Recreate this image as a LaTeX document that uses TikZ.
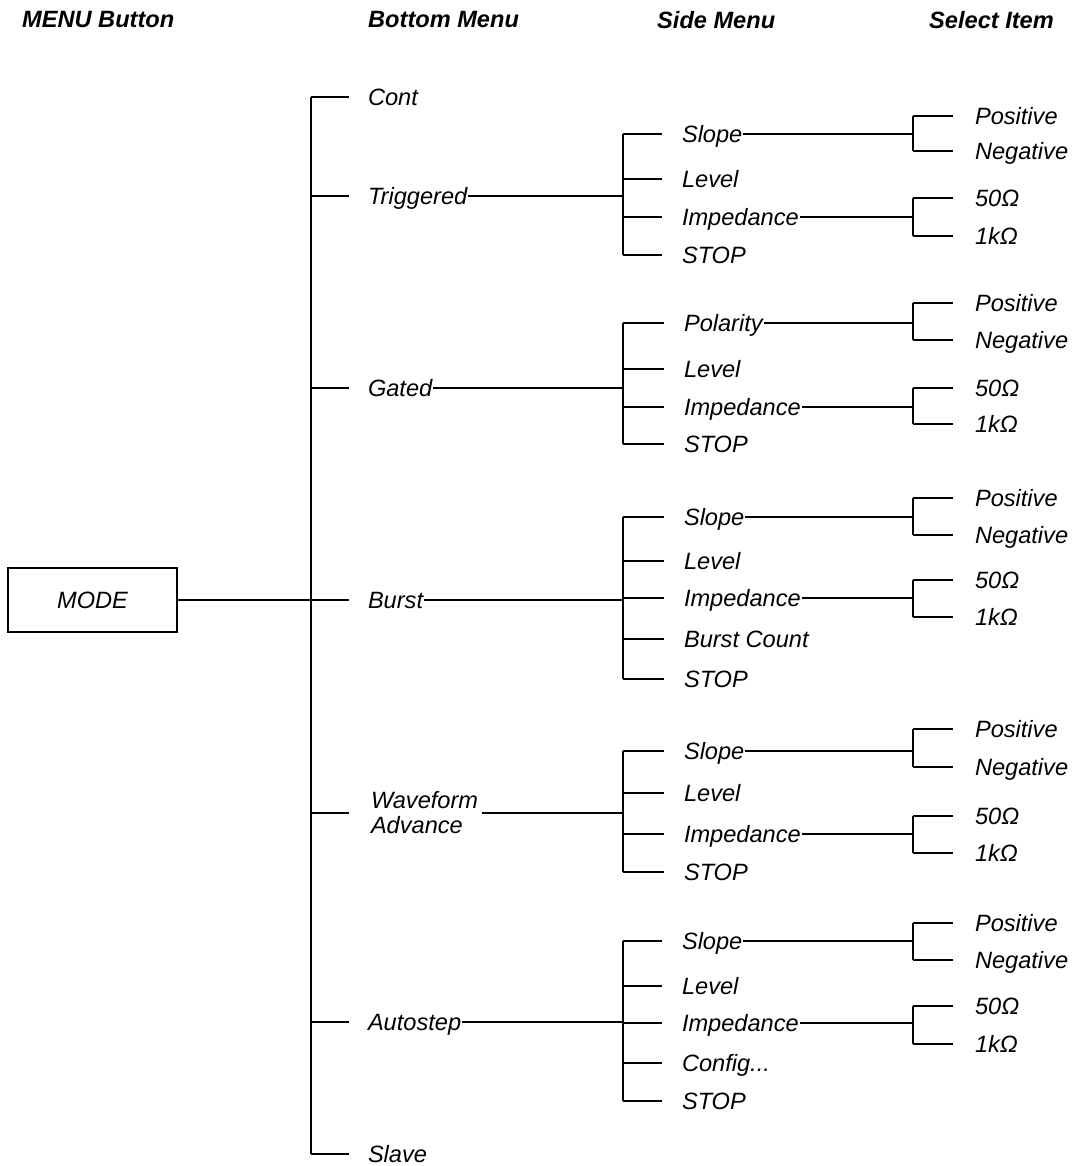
\documentclass[tikz,border=0pt]{standalone}
\usepackage{fontspec}
\setmainfont{Liberation Sans}
\begin{document}
\begin{tikzpicture}[x=1pt,y=-1pt,
  lbl/.style={anchor=west, inner sep=0pt, outer sep=1pt, text height=17pt, text depth=0pt,
    font=\itshape\fontsize{23.6}{28}\selectfont},
  twoline/.style={anchor=west, inner sep=0pt, outer sep=4pt, align=left,
    font=\itshape\fontsize{23.6}{25}\selectfont},
  head/.style={anchor=west, inner sep=0pt, font=\bfseries\itshape\fontsize{23.6}{28}\selectfont},
  ln/.style={line width=1.1pt},
  box/.style={draw, line width=1.1pt, minimum width=169pt, minimum height=64pt, inner sep=0pt,
    font=\itshape\fontsize{23.6}{28}\selectfont}]
\useasboundingbox (0,0) rectangle (1075,1166);

% headings
\node[head] (h1) at (22,20) {MENU Button};
\node[head] (h2) at (368,20) {Bottom Menu};
\node[head] (h3) at (657,20) {Side Menu};
\node[head] (h4) at (929,20) {Select Item};

% trunk x positions
\coordinate (B) at (311,0);
\coordinate (S) at (623,0);
\coordinate (T) at (913,0);

% bottom menu
\node[lbl] (cont)  at (367,97)   {Cont};
\node[lbl] (trig)  at (367,196)  {Triggered};
\node[lbl] (gated) at (367,388)  {Gated};
\node[lbl] (burst) at (367,600)  {Burst};
\node[twoline] (wf) at (367,813) {Waveform\\Advance};
\node[lbl] (auto)  at (367,1022) {Autostep};
\node[lbl] (slave) at (367,1154) {Slave};

% MENU button
\node[box] (mode) at (92.5,600) {MODE};

% side menu: Triggered
\node[lbl] (tS) at (681,134) {Slope};
\node[lbl] (tL) at (681,179) {Level};
\node[lbl] (tI) at (681,217) {Impedance};
\node[lbl] (tX) at (681,255) {STOP};
\node[lbl] (tP) at (974,116) {Positive};
\node[lbl] (tN) at (974,151) {Negative};
\node[lbl] (tF) at (974,198) {50Ω};
\node[lbl] (tK) at (974,236) {1kΩ};

% side menu: Gated
\node[lbl] (gS) at (683,323) {Polarity};
\node[lbl] (gL) at (683,369) {Level};
\node[lbl] (gI) at (683,407) {Impedance};
\node[lbl] (gX) at (683,444) {STOP};
\node[lbl] (gP) at (974,303) {Positive};
\node[lbl] (gN) at (974,340) {Negative};
\node[lbl] (gF) at (974,388) {50Ω};
\node[lbl] (gK) at (974,424) {1kΩ};

% side menu: Burst
\node[lbl] (bS) at (683,517) {Slope};
\node[lbl] (bL) at (683,561) {Level};
\node[lbl] (bI) at (683,598) {Impedance};
\node[lbl] (bB) at (683,639) {Burst Count};
\node[lbl] (bX) at (683,679) {STOP};
\node[lbl] (bP) at (974,498) {Positive};
\node[lbl] (bN) at (974,535) {Negative};
\node[lbl] (bF) at (974,580) {50Ω};
\node[lbl] (bK) at (974,617) {1kΩ};

% side menu: Waveform Advance
\node[lbl] (wS) at (683,751) {Slope};
\node[lbl] (wL) at (683,793) {Level};
\node[lbl] (wI) at (683,834) {Impedance};
\node[lbl] (wX) at (683,872) {STOP};
\node[lbl] (wP) at (974,729) {Positive};
\node[lbl] (wN) at (974,767) {Negative};
\node[lbl] (wF) at (974,816) {50Ω};
\node[lbl] (wK) at (974,853) {1kΩ};

% side menu: Autostep
\node[lbl] (aS) at (681,941) {Slope};
\node[lbl] (aL) at (681,986) {Level};
\node[lbl] (aI) at (681,1023) {Impedance};
\node[lbl] (aC) at (681,1063) {Config...};
\node[lbl] (aX) at (681,1101) {STOP};
\node[lbl] (aP) at (974,923) {Positive};
\node[lbl] (aN) at (974,960) {Negative};
\node[lbl] (aF) at (974,1006) {50Ω};
\node[lbl] (aK) at (974,1044) {1kΩ};

% bottom menu connectors
\draw[ln] (B |- cont.west) -- (B |- slave.west);
\foreach \n in {cont,trig,gated,wf,auto,slave}
  \draw[ln] (B |- \n.west) -- ([xshift=-18pt]\n.west);
\draw[ln] (mode.east) -- ([xshift=-18pt]burst.west);

% groups
\foreach \g/\p in {t/trig,g/gated,b/burst,w/wf,a/auto} {
  \draw[ln] (\p.east) -- (S |- \p.east);
  \draw[ln] (S |- \g S.west) -- (S |- \g X.west);
  \foreach \n in {S,L,I,X}
    \draw[ln] (S |- \g\n.west) -- ([xshift=-19pt]\g\n.west);
  \draw[ln] (\g S.east) -- (T |- \g S.east);
  \draw[ln] (\g I.east) -- (T |- \g I.east);
  \draw[ln] (T |- \g P.west) -- (T |- \g N.west);
  \draw[ln] (T |- \g F.west) -- (T |- \g K.west);
  \foreach \n in {P,N,F,K}
    \draw[ln] (T |- \g\n.west) -- ([xshift=-21pt]\g\n.west);
}
\draw[ln] (S |- bB.west) -- ([xshift=-19pt]bB.west);
\draw[ln] (S |- aC.west) -- ([xshift=-19pt]aC.west);
\end{tikzpicture}
\end{document}
